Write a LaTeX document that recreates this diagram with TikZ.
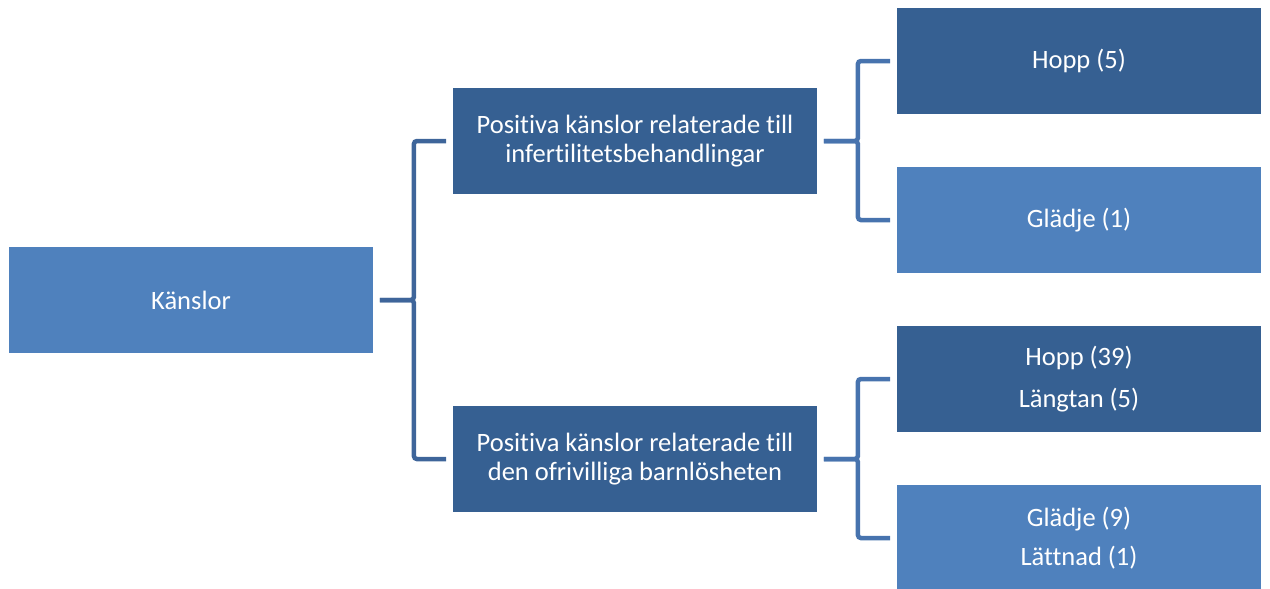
\documentclass[tikz,border=0pt]{standalone}
\usepackage{fontspec}
\setmainfont{Carlito}[Ligatures={NoCommon}]
\definecolor{darkbox}{HTML}{366092}
\definecolor{lightbox}{HTML}{4F81BD}
\definecolor{connA}{HTML}{3E659A}
\definecolor{connB}{HTML}{4773AE}
\tikzset{
  box/.style={rectangle, draw=white, line width=0.8pt, minimum width=365pt, minimum height=107pt,
    align=center, text=white, inner sep=0pt,
    font=\fontsize{26.5pt}{29pt}\selectfont},
  darkb/.style={box, fill=darkbox},
  lightb/.style={box, fill=lightbox},
  connline/.style={line width=4.5pt, rounded corners=3pt},
}
\begin{document}
\begin{tikzpicture}[x=1pt,y=-1pt]
\useasboundingbox (0,0) rectangle (1270,589);
\node[lightb] (K) at (191,300) {Känslor};
\node[darkb] (P1) at (635,141) {Positiva känslor relaterade till\\infertilitetsbehandlingar};
\node[darkb] (P2) at (635,459) {Positiva känslor relaterade till\\den ofrivilliga barnlösheten};
\node[darkb] (H5) at (1079,61) {Hopp (5)};
\node[lightb] (G1) at (1079,220) {Glädje (1)};
\node[darkb] (H39) at (1079,379) {Hopp (39)\\[13pt]Längtan (5)};
\node[lightb] (G9) at (1079,538) {Glädje (9)\\[10pt]Lättnad (1)};
\draw[connline, draw=connA] ([xshift=6pt]K.east) -- ++(34,0) |- ([xshift=-6pt]P1.west);
\draw[connline, draw=connA] ([xshift=6pt]K.east) -- ++(34,0) |- ([xshift=-6pt]P2.west);
\draw[connline, draw=connB] ([xshift=6pt]P1.east) -- ++(34,0) |- ([xshift=-6pt]H5.west);
\draw[connline, draw=connB] ([xshift=6pt]P1.east) -- ++(34,0) |- ([xshift=-6pt]G1.west);
\draw[connline, draw=connB] ([xshift=6pt]P2.east) -- ++(34,0) |- ([xshift=-6pt]H39.west);
\draw[connline, draw=connB] ([xshift=6pt]P2.east) -- ++(34,0) |- ([xshift=-6pt]G9.west);
\end{tikzpicture}
\end{document}
